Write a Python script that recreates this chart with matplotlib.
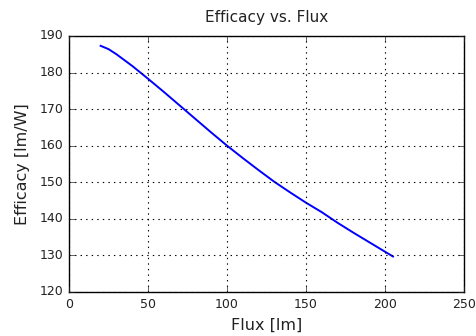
import matplotlib
matplotlib.use("Agg")
import matplotlib.pyplot as plt

# values
flux = [20, 25, 30, 40, 50, 60, 70, 80, 90, 100, 110, 120, 130, 140, 150,
        160, 170, 180, 190, 200, 205]
efficacy = [187.3, 186.4, 185.0, 181.8, 178.3, 174.7, 171.0, 167.3, 163.6, 160.0,
            156.6, 153.3, 150.1, 147.2, 144.4, 141.8, 138.9, 136.2, 133.6, 131.0, 129.7]

plt.style.use('classic')

fig = plt.figure(figsize=(4.76, 3.36), dpi=100)
fig.patch.set_facecolor('white')
ax = fig.add_axes([0.145, 0.131, 0.83, 0.762])

ax.plot(flux, efficacy, color='b', lw=1.4)
ax.set_xlim(0, 250)
ax.set_ylim(120, 190)
ax.set_xticks([0, 50, 100, 150, 200, 250])
ax.set_yticks(range(120, 191, 10))
ax.tick_params(labelsize=9, colors='#222222')
ax.grid(True, color='k', linestyle=':', lw=0.8)

ax.set_title('Efficacy vs. Flux', fontsize=11, color='#222222', pad=10)
ax.set_xlabel('Flux [lm]', fontsize=11.5, color='#222222')
ax.set_ylabel('Efficacy [lm/W]', fontsize=11.5, color='#222222', labelpad=7)

fig.savefig('out.png', dpi=100, facecolor='white')
